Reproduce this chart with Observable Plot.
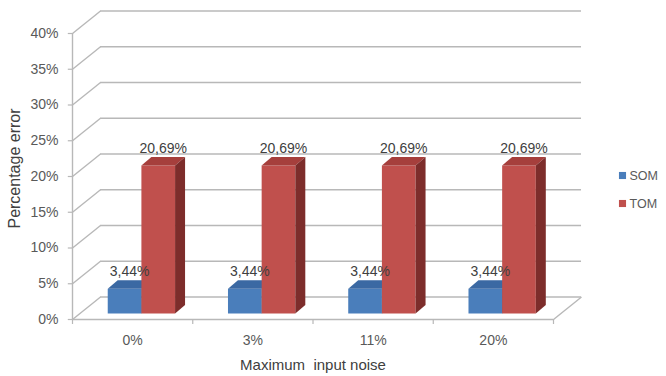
<!DOCTYPE html>
<html>
<head>
<meta charset="utf-8">
<script src="https://cdn.jsdelivr.net/npm/d3@7"></script>
<script src="https://cdn.jsdelivr.net/npm/@observablehq/plot@0.6"></script>
<style>
  body { margin: 0; background: #fff; }
  svg { display: block; }
</style>
</head>
<body>
<div id="chart"></div>
<script>
// Percentage error of SOM and TOM for each level of input noise
const categories = ["0%", "3%", "11%", "20%"];
const seriesNames = ["SOM", "TOM"];
const somValues = [3.44, 3.44, 3.44, 3.44];
const tomValues = [20.69, 20.69, 20.69, 20.69];
const yTicks = [0, 5, 10, 15, 20, 25, 30, 35, 40];

// Oblique 3D projection, expressed in data units of the x and y scales
const wallDX = 0.233, wallDY = 3.15;   // depth of the back wall
const barOX = 0.063, barOY = 0.85;     // offset of the bars' front plane
const barDX = 0.083, barDY = 1.19;     // depth of a bar
const barW = 0.28, groupMid = 0.51;    // bar width and group centre

const palette = {
  SOM: {front: "#4a7ebb", top: "#3b69a3", side: "#2d5486"},
  TOM: {front: "#c0504d", top: "#a63f3c", side: "#7d2d2b"}
};

const fmt = v => v.toFixed(2).replace(".", ",") + "%";

// Build the three visible faces (front, top, right side) of every bar in a series
function barFaces(values, k) {
  const front = [], top = [], side = [], labels = [];
  values.forEach((v, i) => {
    const x0 = i + groupMid + (k - 1) * barW + barOX;
    const x1 = x0 + barW;
    const y0 = barOY, y1 = v + barOY;
    const poly = (arr, pts) => pts.forEach(([x, y]) => arr.push({id: i, x, y}));
    poly(front, [[x0, y0], [x1, y0], [x1, y1], [x0, y1]]);
    poly(top, [[x0, y1], [x1, y1], [x1 + barDX, y1 + barDY], [x0 + barDX, y1 + barDY]]);
    poly(side, [[x1, y0], [x1 + barDX, y0 + barDY], [x1 + barDX, y1 + barDY], [x1, y1]]);
    labels.push({x: (x0 + x1) / 2 + barDX / 2, y: y1, text: fmt(v)});
  });
  return {front, top, side, labels};
}

const series = [
  {name: "SOM", values: somValues},
  {name: "TOM", values: tomValues}
];

const gridColor = "#b8b8b8";
const marks = [];

// back wall gridlines and the diagonals of the side wall
marks.push(Plot.ruleY(yTicks, {y: d => d + wallDY, x1: wallDX, x2: 4 + wallDX, stroke: gridColor, strokeWidth: 1.4}));
marks.push(Plot.link(yTicks, {x1: 0, y1: d => d, x2: wallDX, y2: d => d + wallDY, stroke: gridColor, strokeWidth: 1.4}));
// floor: front edge and right edge
marks.push(Plot.ruleY([0], {x1: 0, x2: 4, stroke: gridColor, strokeWidth: 1.4}));
marks.push(Plot.link([0], {x1: 4, y1: 0, x2: 4 + wallDX, y2: wallDY, stroke: gridColor, strokeWidth: 1.4}));
// front value axis line and ticks
marks.push(Plot.ruleX([0], {y1: 0, y2: 40, stroke: gridColor, strokeWidth: 1.4}));
marks.push(Plot.ruleY(yTicks, {y: d => d, x1: 0, x2: -0.035, stroke: gridColor, strokeWidth: 1.2}));
// category ticks on the front floor edge
marks.push(Plot.ruleX([0, 1, 2, 3, 4], {x: d => d, y1: 0, y2: -0.7, stroke: gridColor, strokeWidth: 1.2}));

// bars
series.forEach((s, k) => {
  const f = barFaces(s.values, k);
  const c = palette[s.name];
  marks.push(Plot.line(f.front, {x: "x", y: "y", z: "id", fill: c.front, stroke: "none"}));
  marks.push(Plot.line(f.top, {x: "x", y: "y", z: "id", fill: c.top, stroke: "none"}));
  marks.push(Plot.line(f.side, {x: "x", y: "y", z: "id", fill: c.side, stroke: "none"}));
  s.labels = f.labels;
});

// value labels above the bars
series.forEach(s => {
  marks.push(Plot.text(s.labels, {x: "x", y: "y", text: "text", dy: -17, fill: "#404040", fontSize: 14}));
});

// value axis labels
marks.push(Plot.text(yTicks, {x: 0, y: d => d, text: d => d + "%", textAnchor: "end", dx: -14, fill: "#595959", fontSize: 14}));
// category labels
marks.push(Plot.text(categories, {x: (d, i) => i + 0.5, y: 0, text: d => d, dy: 21, fill: "#595959", fontSize: 14}));

// axis titles
marks.push(Plot.text(["Maximum  input noise"], {x: 2, frameAnchor: "bottom", lineAnchor: "middle", dy: -11, fill: "#404040", fontSize: 15, letterSpacing: 0.3}));
marks.push(Plot.text(["Percentage error"], {frameAnchor: "left", textAnchor: "middle", lineAnchor: "middle", dx: 14, dy: -20, rotate: -90, fill: "#404040", fontSize: 16, letterSpacing: 0.8}));

// legend
seriesNames.forEach((name, i) => {
  const dy = -13 + i * 28;
  marks.push(Plot.dot([name], {frameAnchor: "right", dx: -44, dy, symbol: "square", r: 4, fill: palette[name].front, stroke: "none"}));
  marks.push(Plot.text([name], {frameAnchor: "right", dx: -37, dy, text: d => d, textAnchor: "start", fill: "#595959", fontSize: 12.5}));
});

const chart = Plot.plot({
  width: 666,
  height: 376,
  margin: 0,
  style: {fontFamily: "'Liberation Sans', Arial, sans-serif", background: "#fff", overflow: "visible"},
  x: {domain: [0, 4], range: [72, 553], axis: null},
  y: {domain: [0, 40], range: [319, 33], axis: null},
  marks
});
document.getElementById("chart").append(chart);
</script>
</body>
</html>
